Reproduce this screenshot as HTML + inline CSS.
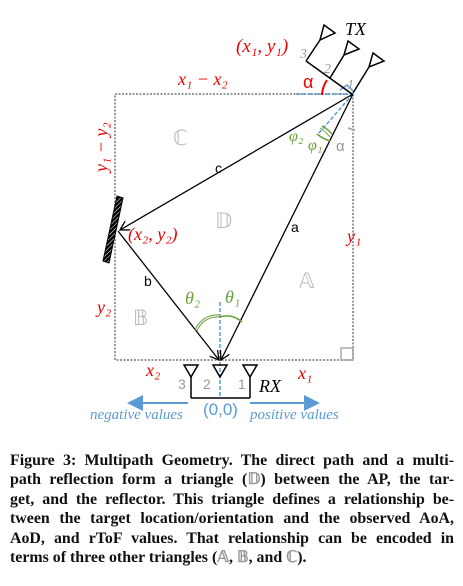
<!DOCTYPE html>
<html><head><meta charset="utf-8"><style>
html,body{margin:0;padding:0;background:#fff;width:463px;height:586px;overflow:hidden}
svg{position:absolute;left:0;top:0}
.cap{position:absolute;left:10px;top:451px;width:444px;font-family:"Liberation Serif",serif;font-weight:bold;font-size:15.9px;line-height:19.4px;color:#111}
.cap div{text-align:justify;text-align-last:justify;white-space:nowrap}
.cap div.last{text-align-last:left}
</style></head><body>
<svg width="463" height="440">
<defs>
<marker id="ar" markerWidth="8" markerHeight="8" refX="7" refY="4" orient="auto"><path d="M0,0 L7,4 L0,8" fill="none" stroke="#000" stroke-width="1"/></marker>
<marker id="bar" markerWidth="8" markerHeight="8" refX="7" refY="4" orient="auto"><path d="M0,0 L8,4 L0,8z" fill="#5b9bd5"/></marker>
<pattern id="hatch" width="3" height="3" patternUnits="userSpaceOnUse" patternTransform="rotate(45)"><rect width="3" height="3" fill="#000"/><line x1="0" y1="0" x2="0" y2="3" stroke="#fff" stroke-width="1"/></pattern>
</defs>
<rect x="115" y="94" width="238" height="266" fill="none" stroke="#999" stroke-width="2" stroke-dasharray="2,1.5"/>
<rect x="341" y="348" width="12" height="12" fill="none" stroke="#aaa" stroke-width="1.5"/>
<line x1="296" y1="94" x2="353" y2="94" stroke="#5b9bd5" stroke-width="1.5" stroke-dasharray="4,2"/>
<line x1="353" y1="94" x2="318" y2="134" stroke="#5b9bd5" stroke-width="1.5" stroke-dasharray="4,2"/>
<line x1="220" y1="302" x2="220" y2="398" stroke="#5b9bd5" stroke-width="1.5" stroke-dasharray="4,2"/>
<path d="M340,90 L347,85 L353,91" fill="none" stroke="#5b9bd5" stroke-width="1.5"/>
<line x1="353" y1="94" x2="120" y2="230" stroke="#000" stroke-width="1.3" marker-end="url(#ar)"/>
<line x1="118" y1="231" x2="219" y2="360" stroke="#000" stroke-width="1.3" marker-end="url(#ar)"/>
<line x1="353" y1="94" x2="221" y2="360" stroke="#000" stroke-width="1.3" marker-end="url(#ar)"/>
<polygon points="117,196 123,198 109,263 103,261" fill="url(#hatch)" stroke="#000" stroke-width="1"/>
<path d="M322,126 A36,36 0 0 1 332,134" fill="none" stroke="#6a9f3a" stroke-width="1.5"/>
<path d="M320,128 A38,38 0 0 1 330,137" fill="none" stroke="#6a9f3a" stroke-width="1"/>
<path d="M317,134 A38,38 0 0 0 330,141" fill="none" stroke="#6a9f3a" stroke-width="1.5"/>
<path d="M348,128 A34,34 0 0 0 355,130" fill="none" stroke="#aaa" stroke-width="2"/>
<path d="M197,331 A22,22 0 0 1 220,317" fill="none" stroke="#6a9f3a" stroke-width="1"/>
<path d="M195,330 A24,24 0 0 1 220,315" fill="none" stroke="#6a9f3a" stroke-width="1"/>
<path d="M220,317 A22,22 0 0 1 242,322" fill="none" stroke="#6a9f3a" stroke-width="1.5"/>
<path d="M322,95 A30,30 0 0 1 327,80" fill="none" stroke="#e00" stroke-width="2"/>
<g stroke="#000" stroke-width="1.5" fill="none">
<polyline points="306,61 352,94"/>
<polyline points="306,61 320,40"/><polygon points="320,40 324,25 335,33"/>
<polyline points="330,78 344,55"/><polygon points="344,55 348,41 359,49"/>
<polyline points="353,93 369,67"/><polygon points="369,67 373,53 384,61"/></g>
<g stroke="#000" stroke-width="1.5" fill="none">
<polyline points="191,398 250,398"/><line x1="191" y1="398" x2="191" y2="377"/><line x1="250" y1="398" x2="250" y2="377"/>
<polygon points="184,365 198,365 191,377"/><polygon points="213,365 227,365 220,377"/><polygon points="243,365 257,365 250,377"/></g>
<line x1="188" y1="403" x2="129" y2="403" stroke="#5b9bd5" stroke-width="2" marker-end="url(#bar)"/>
<line x1="250" y1="403" x2="318" y2="403" stroke="#5b9bd5" stroke-width="2" marker-end="url(#bar)"/>
<g font-family="Liberation Serif,serif" font-style="italic">
<text x="345" y="35" font-size="18" fill="#000">TX</text>
<text x="236" y="52" font-size="19" fill="#e00">(x₁, y₁)</text>
<text x="300" y="58" font-size="14" fill="#999">3</text><text x="324" y="73" font-size="14" fill="#999">2</text><text x="347" y="89" font-size="14" fill="#999">1</text>
<text x="178" y="85" font-size="18" fill="#e00">x₁ − x₂</text>
<text transform="translate(107,172) rotate(-90)" font-size="18" fill="#e00">y₁ − y₂</text>
<text x="128" y="240" font-size="18" fill="#e00">(x₂, y₂)</text>
<text x="347" y="242" font-size="18" fill="#e00">y₁</text>
<text x="97" y="313" font-size="18" fill="#e00">y₂</text>
<text x="146" y="376" font-size="18" fill="#e00">x₂</text>
<text x="298" y="379" font-size="18" fill="#e00">x₁</text>
<text x="185" y="304" font-size="18" fill="#6a9f3a">θ₂</text>
<text x="225" y="303" font-size="18" fill="#6a9f3a">θ₁</text>
<text x="289" y="141" font-size="16" fill="#6a9f3a">φ₂</text>
<text x="308" y="150" font-size="16" fill="#6a9f3a">φ₁</text>
<text x="259" y="392" font-size="18" fill="#000">RX</text>
<text x="90" y="419" font-size="15" fill="#5b9bd5">negative values</text>
<text x="250" y="419" font-size="15" fill="#5b9bd5">positive values</text>
</g>
<g font-family="Liberation Sans,sans-serif">
<text x="303" y="88" font-size="18" fill="#e00">α</text>
<text x="336" y="151" font-size="15" fill="#999">α</text>
<text x="215" y="173" font-size="14" fill="#000">c</text>
<text x="291" y="232" font-size="14" fill="#000">a</text>
<text x="144" y="286" font-size="14" fill="#000">b</text>
<text x="178" y="389" font-size="14" fill="#999">3</text><text x="203" y="389" font-size="14" fill="#999">2</text><text x="238" y="389" font-size="14" fill="#999">1</text>
<text x="203" y="415" font-size="17" fill="#5b9bd5">(0,0)</text>
</g>
<g font-family="DejaVu Sans,sans-serif" font-size="21" fill="#bbb">
<text x="173" y="145">ℂ</text>
<text x="215" y="228">𝔻</text>
<text x="299" y="288">𝔸</text>
<text x="133" y="325">𝔹</text>
</g>
</svg>
<div class="cap">
<div>Figure 3: Multipath Geometry. The direct path and a multi-</div>
<div>path reflection form a triangle (<span style="color:#999">𝔻</span>) between the AP, the tar-</div>
<div>get, and the reflector. This triangle defines a relationship be-</div>
<div>tween the target location/orientation and the observed AoA,</div>
<div>AoD, and rToF values. That relationship can be encoded in</div>
<div class="last">terms of three other triangles (<span style="color:#999">𝔸</span>, <span style="color:#999">𝔹</span>, and <span style="color:#999">ℂ</span>).</div>
</div>
</body></html>
